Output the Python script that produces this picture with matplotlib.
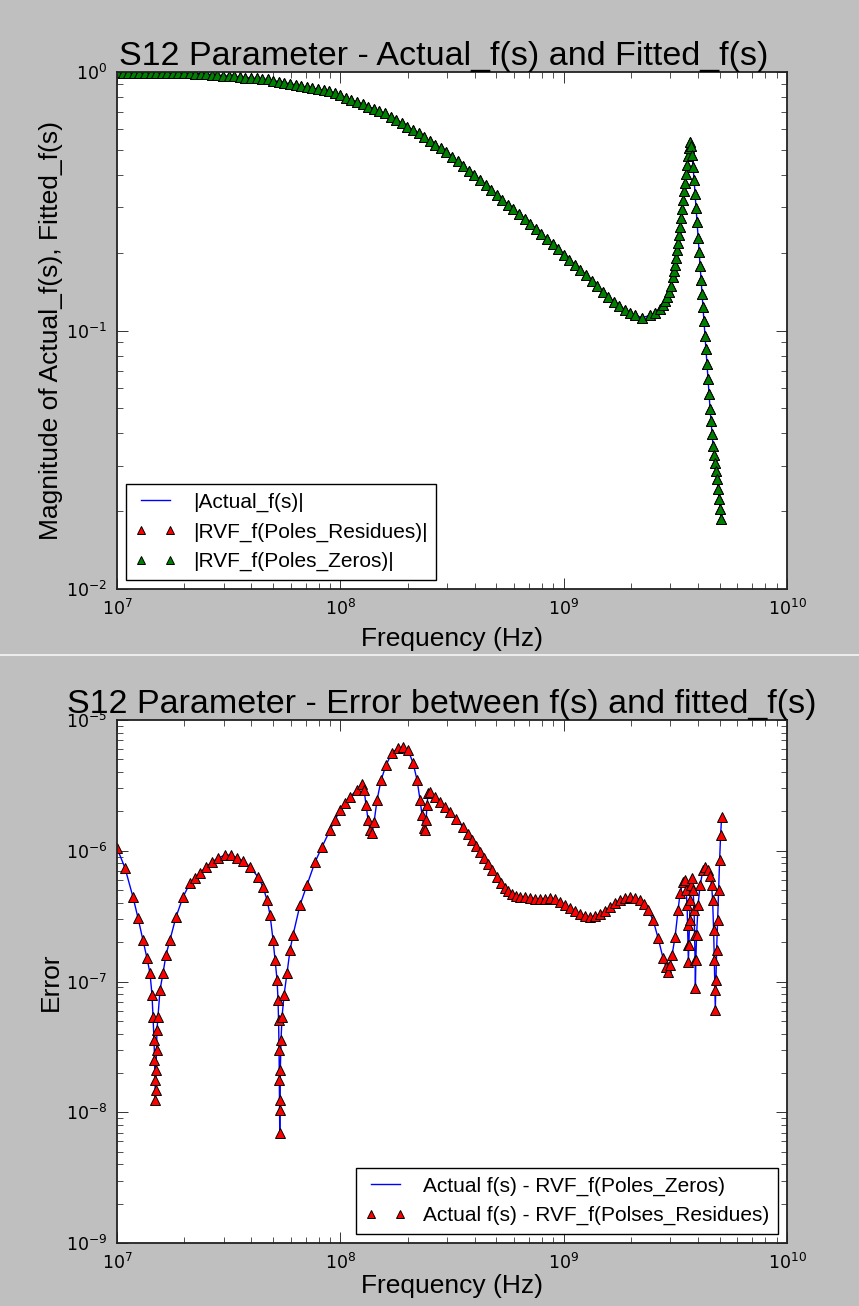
import matplotlib
matplotlib.use("Agg")
import matplotlib.pyplot as plt
from matplotlib.lines import Line2D
import numpy as np

plt.rcParams['font.family'] = ['Liberation Sans', 'DejaVu Sans']

# S12 magnitude (frequency in MHz)
freq_top_mhz = [
    10.00, 10.59, 11.22, 11.89, 12.59, 13.34, 14.13, 14.96, 15.85, 16.79,
    17.78, 18.84, 19.95, 21.13, 22.39, 23.71, 25.12, 26.61, 28.18, 29.85,
    31.62, 33.50, 35.48, 37.58, 39.81, 42.17, 44.67, 47.32, 50.12, 53.09,
    56.23, 59.57, 63.10, 66.83, 70.79, 74.99, 79.43, 84.14, 89.13, 94.41,
    100.0, 105.9, 112.2, 118.9, 125.9, 133.4, 141.3, 149.6, 158.5, 167.9,
    177.8, 188.4, 199.5, 211.3, 223.9, 237.1, 251.2, 266.1, 281.8, 298.5,
    316.2, 335.0, 354.8, 375.8, 398.1, 421.7, 446.7, 473.2, 501.2, 530.9,
    562.3, 595.7, 631.0, 668.3, 707.9, 749.9, 794.3, 841.4, 891.3, 944.1,
    1000, 1059, 1122, 1189, 1259, 1334, 1413, 1496, 1585, 1679, 1778, 1884,
    1984, 2088, 2245, 2438, 2567, 2702, 2787, 2846, 2904, 2965, 3026, 3090,
    3122, 3154, 3187, 3219, 3253, 3287, 3321, 3355, 3390, 3425, 3461, 3497,
    3533, 3570, 3607, 3644, 3681, 3719, 3758, 3797, 3837, 3876, 3917, 3957,
    3998, 4040, 4082, 4124, 4167, 4210, 4254, 4298, 4342, 4387, 4433, 4479,
    4526, 4572, 4620, 4668, 4716, 4765, 4814, 4864, 4914, 4966, 5016, 5069,
]
mag_top = [
    0.996, 0.995, 0.995, 0.995, 0.994, 0.993, 0.993, 0.992, 0.991, 0.990,
    0.989, 0.989, 0.988, 0.987, 0.986, 0.984, 0.981, 0.976, 0.973, 0.968,
    0.964, 0.961, 0.956, 0.952, 0.948, 0.945, 0.940, 0.936, 0.927, 0.918,
    0.909, 0.900, 0.892, 0.883, 0.874, 0.866, 0.857, 0.849, 0.841, 0.830,
    0.813, 0.796, 0.781, 0.765, 0.750, 0.735, 0.721, 0.706, 0.691, 0.671,
    0.652, 0.633, 0.614, 0.596, 0.579, 0.560, 0.541, 0.523, 0.506, 0.489,
    0.471, 0.452, 0.433, 0.415, 0.398, 0.381, 0.364, 0.349, 0.335, 0.321,
    0.307, 0.294, 0.282, 0.270, 0.259, 0.247, 0.236, 0.2256, 0.2157, 0.2059,
    0.1967, 0.1879, 0.1795, 0.1715, 0.1635, 0.1557, 0.1484, 0.1414, 0.1348,
    0.1288, 0.1245, 0.1205,
    0.1173, 0.1143, 0.1122, 0.1143, 0.1173, 0.1216, 0.1260, 0.1306, 0.1353,
    0.1414, 0.1492, 0.1616, 0.1705, 0.1798, 0.1913, 0.2055, 0.2187, 0.2348,
    0.2521, 0.2731, 0.2958, 0.3204, 0.3471, 0.3727, 0.4038, 0.4375, 0.4738,
    0.5087, 0.5366, 0.5179, 0.4781, 0.4297, 0.3828, 0.3381, 0.2985, 0.2635,
    0.2286, 0.2018, 0.1782, 0.1573, 0.1389, 0.1238, 0.1093, 0.0956, 0.0845,
    0.0739, 0.0647, 0.0566, 0.0495, 0.0445, 0.0397, 0.0356, 0.0329, 0.0306,
    0.0285, 0.0266, 0.0243, 0.0223, 0.0204, 0.0186,
]

# error between actual and fitted response, lower plot (frequency in MHz)
freq_err_mhz = [
    10.00, 10.86, 11.79, 12.42, 13.07, 13.62, 14.05, 14.35, 14.50, 14.65,
    14.72, 14.80, 14.84, 14.90, 14.95, 15.03, 15.10, 15.26, 15.58, 16.07,
    16.58, 17.27, 18.37, 19.75, 21.23, 22.35, 23.54, 25.04, 26.64, 28.35,
    30.46, 32.40, 34.46, 36.67, 39.41, 42.80, 45.07, 46.97, 48.45, 49.97,
    51.02, 52.08, 52.60, 52.89, 53.17, 53.33, 53.44, 53.55, 53.70, 53.87,
    54.25, 54.82, 55.97, 57.72, 59.53, 61.41, 65.99, 70.93, 77.04, 82.79,
    89.93, 94.7, 99.7, 104.9, 110.5, 118.8, 125.1, 127.7, 130.4, 133.1,
    135.9, 138.7, 141.6, 146.0, 152.2, 160.2, 170.4, 181.3, 190.9, 201.0,
    211.7, 220.6, 227.5, 232.3, 237.1, 239.5, 242.0, 244.5, 247.0, 252.2,
    265.6, 279.6, 294.3, 309.9, 329.6, 354.3, 373.2, 388.9, 405.3, 422.3,
    440.1, 458.6, 477.9, 503.3, 524.5, 546.6, 563.7, 587.3, 612.2, 638.0,
    671.5, 707.3, 744.6, 784.3, 825.5, 869.5, 915.2, 963.6, 1015, 1068,
    1125, 1184, 1247, 1313, 1382, 1455, 1533, 1614, 1699, 1789,
    1884, 1983, 2088, 2198, 2292, 2388, 2515, 2647, 2787, 2875,
    2934, 2996, 3058, 3154, 3253, 3321, 3425, 3497, 3533, 3570,
    3588, 3607, 3618, 3637, 3663, 3681, 3719, 3758, 3797, 3837,
    3857, 3876, 3889, 3908, 3937, 3998, 4082, 4210, 4298, 4433,
    4526, 4596, 4644, 4692, 4727, 4756, 4775, 4805, 4840, 4890,
    4941, 4992, 5044, 5096,
]
err = [
    1.05e-6, 7.38e-7, 4.43e-7, 3.06e-7, 2.08e-7, 1.51e-7, 1.16e-7, 7.89e-8, 5.36e-8, 3.57e-8,
    2.51e-8, 1.77e-8, 1.24e-8, 1.48e-8, 2.10e-8, 2.99e-8, 4.26e-8, 5.36e-8, 8.61e-8, 1.16e-7,
    1.60e-7, 2.08e-7, 3.11e-7, 4.43e-7, 5.66e-7, 6.19e-7, 6.76e-7, 7.52e-7, 8.20e-7, 8.80e-7,
    9.27e-7, 9.27e-7, 8.80e-7, 8.36e-7, 7.52e-7, 6.30e-7, 5.28e-7, 4.20e-7, 3.23e-7, 2.08e-7,
    1.46e-7, 1.03e-7, 7.22e-8, 5.08e-8, 2.99e-8, 1.77e-8, 1.04e-8, 6.93e-9, 1.24e-8, 2.10e-8,
    3.57e-8, 5.36e-8, 7.89e-8, 1.16e-7, 1.74e-7, 2.27e-7, 3.85e-7, 5.47e-7, 8.20e-7, 1.07e-6,
    1.44e-6, 1.72e-6, 2.05e-6, 2.32e-6, 2.58e-6, 2.92e-6, 3.24e-6, 2.92e-6, 2.24e-6, 1.72e-6,
    1.44e-6, 1.37e-6, 1.66e-6, 2.44e-6, 3.47e-6, 4.53e-6, 5.60e-6, 6.11e-6, 6.21e-6, 5.90e-6,
    4.69e-6, 3.47e-6, 2.44e-6, 1.87e-6, 1.49e-6, 1.44e-6, 1.72e-6, 2.24e-6, 2.76e-6, 2.81e-6,
    2.58e-6, 2.36e-6, 2.16e-6, 1.98e-6, 1.75e-6, 1.52e-6, 1.34e-6, 1.21e-6, 1.09e-6, 9.78e-7,
    8.80e-7, 7.92e-7, 7.13e-7, 6.30e-7, 5.66e-7, 5.19e-7, 4.92e-7, 4.67e-7, 4.51e-7, 4.43e-7,
    4.39e-7, 4.35e-7, 4.31e-7, 4.28e-7, 4.31e-7, 4.35e-7, 4.24e-7, 4.06e-7, 3.85e-7, 3.65e-7,
    3.46e-7, 3.28e-7, 3.17e-7, 3.11e-7, 3.17e-7, 3.28e-7, 3.46e-7, 3.72e-7, 3.98e-7, 4.20e-7,
    4.35e-7, 4.43e-7, 4.35e-7, 4.20e-7, 3.92e-7, 3.52e-7, 2.95e-7, 2.15e-7, 1.51e-7, 1.29e-7,
    1.18e-7, 1.34e-7, 1.60e-7, 2.19e-7, 3.52e-7, 4.75e-7, 5.77e-7, 5.97e-7, 5.01e-7, 3.85e-7,
    2.70e-7, 1.90e-7, 1.41e-7, 1.90e-7, 2.95e-7, 4.20e-7, 5.47e-7, 6.20e-7, 5.01e-7, 3.52e-7,
    2.27e-7, 1.46e-7, 8.91e-8, 1.46e-7, 2.27e-7, 3.85e-7, 5.47e-7, 7.13e-7, 7.52e-7, 7.13e-7,
    6.41e-7, 5.47e-7, 4.20e-7, 2.48e-7, 1.46e-7, 8.61e-8, 6.05e-8, 1.03e-7, 1.74e-7, 2.95e-7,
    5.01e-7, 8.49e-7, 1.32e-6, 1.81e-6,
]

f_top = np.array(freq_top_mhz) * 1e6
f_err = np.array(freq_err_mhz) * 1e6

W, H = 859, 1306
fig = plt.figure(figsize=(W / 100, H / 100), dpi=100, facecolor='#bfbfbf')

# the picture is two screenshots stacked; thin light seam between them
fig.add_artist(Line2D([0, 1], [1 - 655 / H, 1 - 655 / H], color='#ececec',
                      lw=1.5, transform=fig.transFigure))

ax1 = fig.add_axes([117 / W, 1 - 589 / H, 670 / W, 517 / H])
ax2 = fig.add_axes([117 / W, 1 - 1243 / H, 670 / W, 523 / H])


def style(ax):
    ax.set_xscale('log')
    ax.set_yscale('log')
    ax.set_facecolor('white')
    ax.tick_params(which='both', direction='in', top=True, right=True,
                   color='#333333', labelsize=12.5,
                   labelfontfamily='DejaVu Sans')
    ax.tick_params(which='major', length=8, width=0.7, pad=7)
    ax.tick_params(which='minor', length=4, width=0.6)
    for s in ax.spines.values():
        s.set_linewidth(1.3)
        s.set_color('#222222')


ms = 7
mew = 0.7
leg_kw = dict(numpoints=2, fontsize=15, fancybox=False, edgecolor='black',
              framealpha=1, handlelength=2.0, borderaxespad=0.45,
              labelspacing=0.5, markerscale=0.8)

ax1.plot(f_top, mag_top, 'b-', lw=1, label='|Actual_f(s)|')
ax1.plot(f_top, mag_top, 'r^', ms=ms, mec='k', mew=mew,
         label='|RVF_f(Poles_Residues)|')
ax1.plot(f_top, mag_top, 'g^', ms=ms, mec='k', mew=mew,
         label='|RVF_f(Poles_Zeros)|')
style(ax1)
ax1.set_xlim(1e7, 1e10)
ax1.set_ylim(1e-2, 1e0)
ax1.set_title('S12 Parameter - Actual_f(s) and Fitted_f(s)', fontsize=24.5,
              pad=5, x=0.487)
ax1.set_xlabel('Frequency (Hz)', fontsize=19, labelpad=6)
ax1.set_ylabel('Magnitude of Actual_f(s), Fitted_f(s)', fontsize=19, labelpad=2)
leg1 = ax1.legend(loc='lower left', **leg_kw)
leg1.get_frame().set_linewidth(1.0)

ax2.plot(f_err, err, 'b-', lw=1, label='Actual f(s) - RVF_f(Poles_Zeros)')
ax2.plot(f_err, err, 'r^', ms=ms, mec='k', mew=mew,
         label='Actual f(s) - RVF_f(Polses_Residues)')
style(ax2)
ax2.set_xlim(1e7, 1e10)
ax2.set_ylim(1e-9, 1e-5)
ax2.set_title('S12 Parameter - Error between f(s) and fitted_f(s)',
              fontsize=24.5, pad=5, x=0.485)
ax2.set_xlabel('Frequency (Hz)', fontsize=19, labelpad=1)
ax2.set_ylabel('Error', fontsize=19, labelpad=2)
leg2 = ax2.legend(loc='lower right', **leg_kw)
leg2.get_frame().set_linewidth(1.0)

fig.savefig('out.png', dpi=100, facecolor=fig.get_facecolor())
